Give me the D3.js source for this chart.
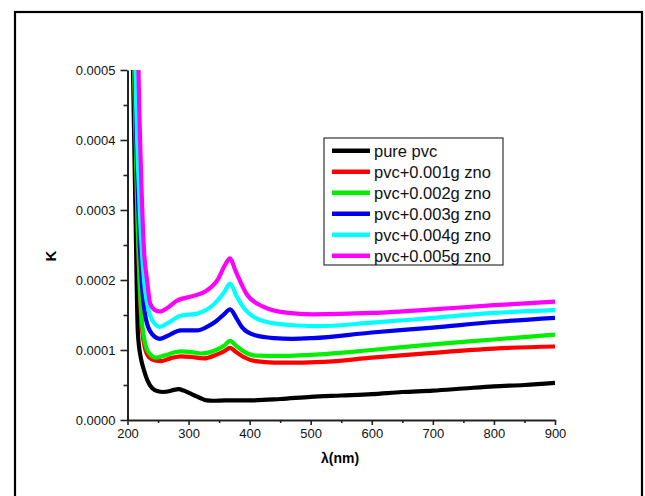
<!DOCTYPE html>
<html><head><meta charset="utf-8">
<script src="https://cdn.jsdelivr.net/npm/d3@7"></script>
<style>body{margin:0;background:#fff;}svg{display:block;font-family:Arial,"Liberation Sans",sans-serif;}</style>
</head><body>
<svg id="c" width="645" height="496"></svg>
<script>
const xTicks = [200,300,400,500,600,700,800,900];
const yTicks = [0,0.0001,0.0002,0.0003,0.0004,0.0005];
const seriesNames = ["pure pvc","pvc+0.001g zno","pvc+0.002g zno","pvc+0.003g zno","pvc+0.004g zno","pvc+0.005g zno"];
const seriesColors = ["#000000","#ff0000","#00ee00","#0000ee","#00ffff","#ff00ff"];
const pure = [[205,0.0007],[209,0.0005],[213,0.0003],[217,0.000124],[222,0.000088],[226,0.000074],[233,0.000056],[240,0.000046],[250,0.000041],[258,0.00004],[268,0.000041],[276,0.000043],[284,0.000044],[292,0.000042],[300,0.000039],[310,0.000035],[320,0.000031],[330,0.000028],[340,0.0000275],[360,0.000028],[400,0.000028],[450,0.00003],[500,0.000033],[550,0.000035],[600,0.000037],[650,0.00004],[700,0.000042],[750,0.000045],[800,0.000048],[850,0.00005],[900,0.000053]];
const zno1 = [[206,0.0008],[211,0.0005],[216,0.0003],[222,0.00015],[228,0.000105],[235,0.00009],[245,0.000085],[255,0.000084],[270,0.000088],[287,0.000091],[305,0.00009],[325,0.000088],[345,0.000093],[358,0.000098],[368,0.000103],[378,0.000097],[390,0.00009],[410,0.000084],[440,0.000082],[480,0.000082],[520,0.000083],[600,0.000089],[700,0.000096],[800,0.000102],[900,0.000105]];
const zno2 = [[206,0.0008],[211,0.0005],[216,0.0003],[222,0.00016],[228,0.000113],[235,0.000096],[247,0.000089],[260,0.000092],[287,0.000098],[305,0.000097],[321,0.000095],[345,0.0001],[358,0.000106],[368,0.000113],[378,0.000106],[390,0.000098],[410,0.000092],[460,0.0000915],[500,0.000093],[600,0.0001],[700,0.000108],[800,0.000115],[900,0.000122]];
const zno3 = [[207,0.0008],[212,0.0005],[218,0.0003],[224,0.00019],[230,0.000145],[240,0.000123],[253,0.000116],[265,0.00012],[287,0.000128],[314,0.000128],[330,0.000133],[345,0.000141],[358,0.000151],[368,0.000158],[378,0.000146],[388,0.000132],[409,0.000121],[440,0.000117],[470,0.000116],[503,0.000117],[600,0.000125],[700,0.000132],[800,0.00014],[900,0.000146]];
const zno4 = [[208,0.0008],[213,0.0005],[220,0.0003],[227,0.0002],[235,0.000155],[245,0.000137],[253,0.000133],[265,0.000138],[287,0.000149],[314,0.000152],[341,0.000165],[358,0.000182],[368,0.000195],[378,0.000178],[388,0.000163],[409,0.000146],[440,0.000138],[480,0.000135],[510,0.000134],[600,0.000139],[700,0.000146],[800,0.000153],[900,0.000157]];
const zno5 = [[213,0.0008],[218,0.0005],[223,0.00033],[227,0.000243],[232,0.0002],[237,0.000167],[245,0.000157],[253,0.000155],[265,0.00016],[280,0.00017],[307,0.000177],[328,0.000184],[348,0.000201],[360,0.000222],[368,0.000231],[376,0.000215],[382,0.000203],[395,0.00018],[422,0.000162],[463,0.000153],[503,0.000151],[600,0.000153],[700,0.000158],[800,0.000164],[900,0.000169]];
const seriesData = [pure,zno1,zno2,zno3,zno4,zno5];

const svg = d3.select("#c");
svg.append("rect").attr("x",15).attr("y",12).attr("width",627).attr("height",520)
  .attr("fill","none").attr("stroke","#000").attr("stroke-width",2.2);

const x = d3.scaleLinear().domain([200,900]).range([127.5,555]);
const y = d3.scaleLinear().domain([0,0.0005]).range([420,70]);

svg.append("defs").append("clipPath").attr("id","plot").append("rect")
  .attr("x",127.5).attr("y",70).attr("width",430).attr("height",350);

const line = d3.line().x(d=>x(d[0])).y(d=>y(d[1])).curve(d3.curveMonotoneX);
const g = svg.append("g").attr("clip-path","url(#plot)");
seriesData.forEach((s,i)=>{
  g.append("path").datum(s).attr("d",line).attr("fill","none")
    .attr("stroke",seriesColors[i]).attr("stroke-width",4.2).attr("stroke-linejoin","round");
});

// axes
const axCol = "#222";
const xMinor = d3.range(250,900,100);
const yMinor = [0.00005,0.00015,0.00025,0.00035,0.00045];
const xa = svg.append("g").attr("transform","translate(0,420)")
  .call(d3.axisBottom(x).tickValues(xTicks).tickSize(5).tickSizeOuter(0).tickPadding(4).tickFormat(d3.format("d")));
const xm = svg.append("g").attr("transform","translate(0,420)")
  .call(d3.axisBottom(x).tickValues(xMinor).tickSize(3).tickSizeOuter(0).tickFormat(""));
xm.select(".domain").remove();
const ya = svg.append("g").attr("transform","translate(127.5,0)")
  .call(d3.axisLeft(y).tickValues(yTicks).tickSize(7).tickSizeOuter(0).tickPadding(5).tickFormat(d3.format(".4f")));
const ym = svg.append("g").attr("transform","translate(127.5,0)")
  .call(d3.axisLeft(y).tickValues(yMinor).tickSize(4).tickSizeOuter(0).tickFormat(""));
ym.select(".domain").remove();
[xa,ya].forEach(a=>{
  a.select(".domain").attr("stroke",axCol).attr("stroke-width",2);
  a.selectAll("text").attr("font-size",13).attr("fill","#111").attr("font-family","Arial, 'Liberation Sans', sans-serif");
});
[xa,ya,xm,ym].forEach(a=>a.selectAll(".tick line").attr("stroke",axCol).attr("stroke-width",1.6));
xa.selectAll("text").attr("dy","0.71em");

// titles
svg.append("text").attr("x",340).attr("y",463).attr("text-anchor","middle")
  .attr("font-size",14).attr("font-weight","bold").text("λ(nm)");
svg.append("text").attr("transform","translate(56,256) rotate(-90)").attr("text-anchor","middle")
  .attr("font-size",15).attr("font-weight","bold").text("K");

// legend
const lg = svg.append("g");
lg.append("rect").attr("x",324).attr("y",138).attr("width",179).attr("height",127)
  .attr("fill","#fff").attr("stroke","#333").attr("stroke-width",1.2);
seriesNames.forEach((n,i)=>{
  const yy = 150.7 + i*21;
  lg.append("line").attr("x1",332).attr("x2",370).attr("y1",yy).attr("y2",yy)
    .attr("stroke",seriesColors[i]).attr("stroke-width",4.5);
  lg.append("text").attr("x",374).attr("y",yy+6).attr("font-size",16.5).attr("fill","#111").text(n);
});
</script>
</body></html>
